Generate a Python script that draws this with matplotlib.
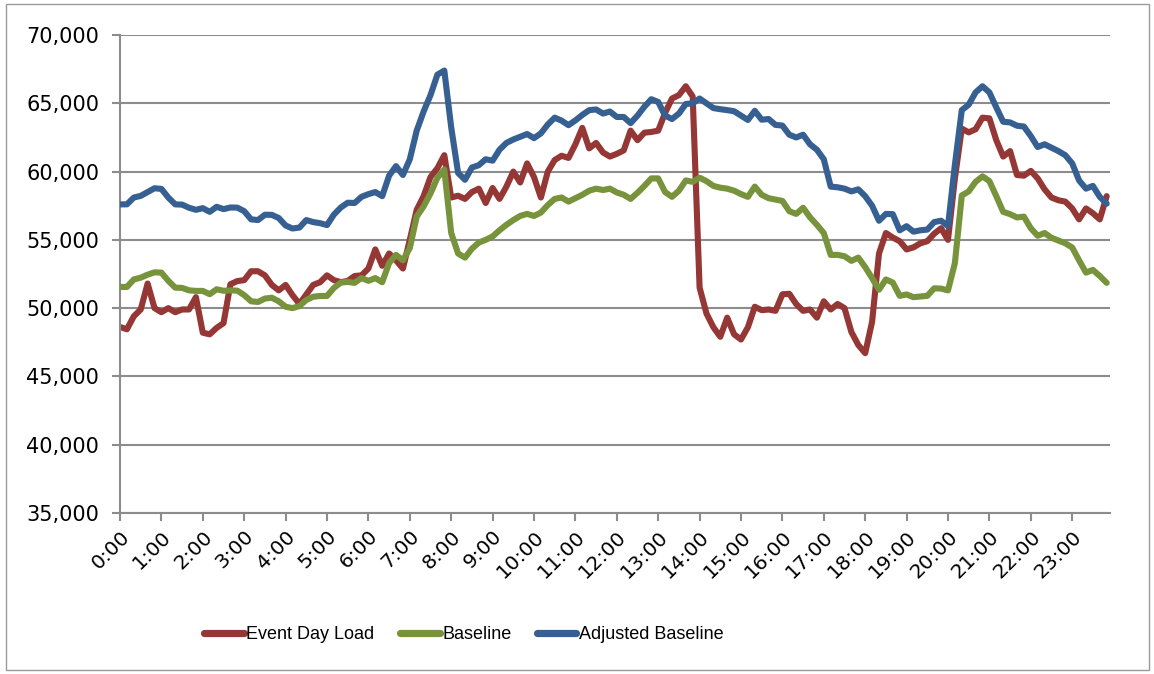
import matplotlib
matplotlib.use("Agg")
import matplotlib.pyplot as plt
import matplotlib.ticker as mticker
from matplotlib.patches import Rectangle
import numpy as np

# ── Colours (Excel 2007 palette) ────────────────────────────────────────────
RED   = "#953735"
GREEN = "#77933C"
BLUE  = "#376092"
GRID  = "#8c8c8c"

# ── Data: 10-minute readings, 0:00 .. 23:50 ──────────────────────────────────
event_day_load = [
    48620, 48450, 49400, 49900, 51800, 50000, 49700, 50000, 49700, 49900, 49900, 50800,
    48200, 48080, 48550, 48900, 51750, 51980, 52050, 52700, 52700, 52400, 51700, 51300,
    51700, 50950, 50300, 51000, 51700, 51900, 52400, 52050, 51900, 51990, 52350, 52400,
    52900, 54300, 53100, 54000, 53500, 52900, 55000, 57200, 58200, 59600, 60250, 61200,
    58100, 58230, 58000, 58500, 58750, 57700, 58800, 58000, 58900, 60000, 59200, 60600,
    59600, 58100, 60000, 60850, 61160, 61000, 62000, 63200, 61700, 62100, 61400, 61100,
    61300, 61550, 63000, 62300, 62850, 62900, 63000, 64300, 65350, 65600, 66250, 65500,
    51500, 49600, 48600, 47900, 49300, 48080, 47700, 48600, 50100, 49850, 49900, 49800,
    51010, 51050, 50300, 49800, 49900, 49300, 50500, 49900, 50300, 50000, 48250, 47300,
    46700, 49000, 54000, 55500, 55170, 54900, 54300, 54450, 54750, 54900, 55450, 55850,
    55000, 59500, 63150, 62870, 63100, 63950, 63900, 62300, 61100, 61500, 59750, 59700,
    60050, 59500, 58700, 58100, 57900, 57800, 57300, 56500, 57300, 56950, 56500, 58200,
]
baseline = [
    51550, 51550, 52100, 52230, 52450, 52620, 52600, 52000, 51500, 51480, 51300, 51260,
    51260, 51020, 51380, 51270, 51300, 51280, 50950, 50500, 50450, 50700, 50760, 50500,
    50100, 50000, 50150, 50600, 50830, 50890, 50890, 51480, 51870, 51920, 51850, 52200,
    52000, 52200, 51900, 53300, 53900, 53500, 54400, 56700, 57450, 58400, 59550, 60150,
    55500, 54000, 53700, 54350, 54800, 55000, 55250, 55700, 56100, 56450, 56750, 56900,
    56750, 57000, 57550, 58000, 58100, 57800, 58050, 58300, 58600, 58750, 58650, 58750,
    58470, 58300, 58000, 58450, 58950, 59500, 59500, 58500, 58150, 58600, 59350, 59250,
    59550, 59300, 58950, 58820, 58750, 58600, 58350, 58150, 58900, 58300, 58050, 57950,
    57850, 57100, 56900, 57350, 56650, 56100, 55500, 53900, 53900, 53800, 53460, 53700,
    53000, 52200, 51350, 52100, 51870, 50900, 51000, 50800, 50850, 50900, 51450, 51430,
    51300, 53300, 58250, 58550, 59250, 59650, 59300, 58200, 57050, 56880, 56640, 56700,
    55850, 55300, 55500, 55150, 54950, 54750, 54440, 53500, 52600, 52800, 52350, 51850,
]
adjusted_baseline = [
    57600, 57600, 58100, 58220, 58500, 58780, 58730, 58100, 57600, 57580, 57350, 57200,
    57320, 57050, 57420, 57250, 57370, 57360, 57100, 56500, 56450, 56840, 56830, 56600,
    56050, 55830, 55900, 56450, 56300, 56220, 56080, 56850, 57370, 57720, 57700, 58150,
    58350, 58500, 58200, 59700, 60400, 59750, 60900, 63000, 64400, 65600, 67100, 67400,
    63240, 59900, 59400, 60300, 60470, 60900, 60800, 61600, 62100, 62350, 62550, 62750,
    62450, 62800, 63450, 63950, 63730, 63400, 63750, 64150, 64500, 64550, 64250, 64400,
    64000, 64000, 63550, 64100, 64750, 65300, 65100, 64100, 63850, 64250, 64950, 65000,
    65350, 65000, 64650, 64570, 64500, 64420, 64100, 63780, 64450, 63800, 63850, 63420,
    63370, 62700, 62500, 62700, 62000, 61600, 60900, 58900, 58850, 58750, 58550, 58700,
    58200, 57500, 56400, 56900, 56880, 55700, 56000, 55600, 55700, 55750, 56300, 56400,
    56000, 60500, 64500, 64900, 65800, 66250, 65800, 64700, 63650, 63600, 63360, 63300,
    62600, 61800, 62000, 61750, 61500, 61200, 60600, 59350, 58750, 58950, 58150, 57650,
]
hour_labels = [f"{h}:00" for h in range(24)]

hours = np.arange(len(baseline)) / 6.0   # 10-minute steps, in hours

# ── Figure layout ───────────────────────────────────────────────────────────
fig = plt.figure(figsize=(11.54, 6.74), dpi=100, facecolor="white")
ax = fig.add_axes([0.104, 0.239, 0.858, 0.709])

# chart-area border
fig.add_artist(Rectangle((0.005, 0.006), 0.991, 0.988, transform=fig.transFigure,
                         fill=False, ec="#9a9a9a", lw=1.0))

# ── Lines (drawn in series order, last on top) ──────────────────────────────
lw = 4.4
ax.plot(hours, event_day_load, color=RED, lw=lw, label="Event Day Load",
        solid_capstyle="round", solid_joinstyle="round", zorder=2)
ax.plot(hours, baseline, color=GREEN, lw=lw, label="Baseline",
        solid_capstyle="round", solid_joinstyle="round", zorder=3)
ax.plot(hours, adjusted_baseline, color=BLUE, lw=lw, label="Adjusted Baseline",
        solid_capstyle="round", solid_joinstyle="round", zorder=4)

# ── Axes ────────────────────────────────────────────────────────────────────
ax.set_ylim(35000, 70000)
ax.set_xlim(0, 23.917)
ax.yaxis.set_major_locator(mticker.MultipleLocator(5000))
ax.yaxis.set_major_formatter(mticker.FuncFormatter(lambda v, _: f"{v:,.0f}"))
ax.set_xticks(range(24))
ax.set_xticklabels(hour_labels, rotation=45, ha="right", rotation_mode="anchor")

ax.grid(axis="y", color=GRID, lw=1.5, zorder=0)
ax.set_axisbelow(True)
for side in ["top", "right"]:
    ax.spines[side].set_visible(False)
for side in ["left", "bottom"]:
    ax.spines[side].set_color(GRID)
    ax.spines[side].set_linewidth(1.5)

ax.tick_params(axis="y", length=6, width=1.5, color=GRID, labelsize=15,
               labelcolor="black", pad=9)
ax.tick_params(axis="x", length=6, width=1.5, color=GRID, labelsize=14.5,
               labelcolor="black", pad=4)

# ── Legend ──────────────────────────────────────────────────────────────────
leg = fig.legend(loc="center", bbox_to_anchor=(0.402, 0.058), ncol=3, frameon=False,
                 handlelength=2.2, handletextpad=0.15, columnspacing=1.4,
                 prop={"family": "Liberation Sans", "size": 13})
for line in leg.get_lines():
    line.set_linewidth(5.2)

fig.savefig("out.png", dpi=100, facecolor="white")
